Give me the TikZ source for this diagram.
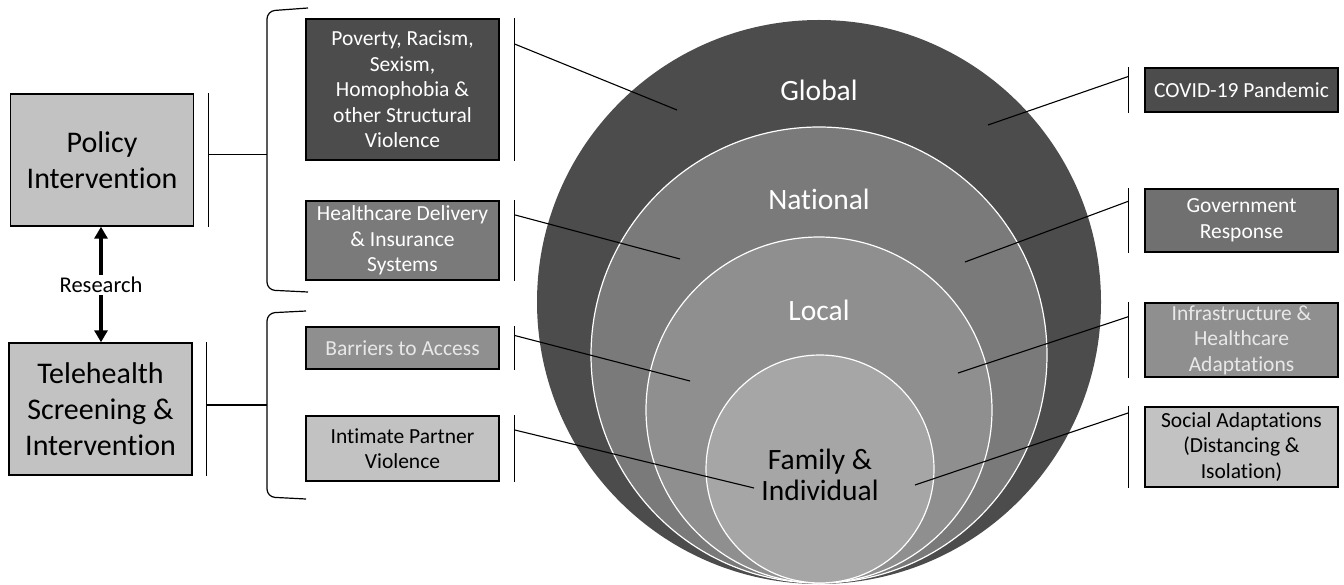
\documentclass[tikz,border=0pt]{standalone}
\usepackage{fontspec}
\setmainfont{Carlito}[Ligatures=CommonOff]
\usetikzlibrary{arrows.meta}

\definecolor{darkfill}{gray}{0.30}
\definecolor{govfill}{gray}{0.44}
\definecolor{midfill}{gray}{0.48}
\definecolor{localfill}{gray}{0.56}
\definecolor{famfill}{gray}{0.65}
\definecolor{lightfill}{gray}{0.76}
\definecolor{paletext}{gray}{0.91}

\begin{document}
\begin{tikzpicture}[x=1pt, y=-1pt,
  every node/.style={inner sep=0pt},
  bigbox/.style={draw, line width=1.4pt, fill=lightfill, minimum width=183pt, minimum height=132pt, align=center, font=\fontsize{30}{36}\selectfont},
  smallbox/.style={draw, line width=1.2pt, minimum width=193pt, align=center, font=\fontsize{21.5}{25.5}\selectfont},
  ringlabel/.style={text=white, align=center, font=\fontsize{29.5}{31}\selectfont},
  ring/.style={draw=white, line width=1.2pt},
  tickline/.style={line width=1.3pt},
  bracketline/.style={line width=1.2pt, rounded corners=8pt},
  link/.style={line width=1.1pt},
  arr/.style={-{Triangle[length=12pt,width=13pt]}, line width=4.5pt}]
\useasboundingbox (0,0) rectangle (1344,585);

% Nested levels
\fill[darkfill] (819,302) circle [radius=282pt];
\draw[ring, fill=midfill] (819,355) circle [radius=228pt];
\draw[ring, fill=localfill] (819,410) circle [radius=173pt];
\draw[ring, fill=famfill] (820,469) circle [radius=114pt];

\node[ringlabel, anchor=base] (global) at (819,101) {Global};
\node[ringlabel, anchor=base] (national) at (819,210) {National};
\node[ringlabel, anchor=base] (local) at (819,320) {Local};
\node[ringlabel, text=black] (family) at (820,475) {Family \&\\Individual};

% Intervention side
\node[bigbox] (policy) at (102,160) {Policy\\Intervention};
\node[bigbox] (tele) at (100.5,409) {Telehealth\\Screening \&\\Intervention};
\node[font=\fontsize{22.5}{27}\selectfont, inner sep=2pt] (research) at (101,285) {Research};
\draw[arr] (research.north) -- (research.north |- policy.south);
\draw[arr] (research.south) -- (research.south |- tele.north);

\draw[tickline] ([xshift=14pt]policy.north east) -- ([xshift=14pt]policy.south east) coordinate[pos=0.46] (policy-t);
\draw[tickline] ([xshift=14pt]tele.north east) -- ([xshift=14pt]tele.south east) coordinate[pos=0.47] (tele-t);

% Brackets
\draw[bracketline] (308,8) -- (267,11) -- (267,290) -- (308,292);
\draw[bracketline] (306,311) -- (267,313) -- (267,497) -- (306,499);
\coordinate (upper-br) at (267,155);
\coordinate (lower-br) at (267,405);
\draw[link] (policy-t) -- (policy-t -| upper-br);
\draw[link] (tele-t) -- (tele-t -| lower-br);

% Factors
\node[smallbox, fill=darkfill, text=white, minimum height=141pt] (poverty) at (402.5,89.5) {Poverty, Racism,\\Sexism,\\Homophobia \&\\other Structural\\Violence};
\node[smallbox, fill=midfill, text=white, minimum height=79pt] (delivery) at (402.5,240.5) {Healthcare Delivery\\\& Insurance\\Systems};
\node[smallbox, fill=localfill, text=paletext, minimum height=42pt] (barriers) at (402.5,348) {Barriers to Access};
\node[smallbox, fill=lightfill, minimum height=65pt] (ipv) at (402.5,448.5) {Intimate Partner\\Violence};

\draw[tickline] ([xshift=15pt]poverty.north east) -- ([xshift=15pt]poverty.south east) coordinate[pos=0.18] (poverty-t);
\draw[tickline] ([xshift=15pt]delivery.north east) -- ([xshift=15pt]delivery.south east) coordinate[pos=0.18] (delivery-t);
\draw[tickline] ([xshift=15pt]barriers.north east) -- ([xshift=15pt]barriers.south east) coordinate[pos=0.21] (barriers-t);
\draw[tickline] ([xshift=15pt]ipv.north east) -- ([xshift=15pt]ipv.south east) coordinate[pos=0.22] (ipv-t);

% Pandemic side
\node[smallbox, fill=darkfill, text=white, minimum height=44pt] (covid) at (1241.5,90) {COVID-19 Pandemic};
\node[smallbox, fill=govfill, text=white, minimum height=63pt] (govt) at (1241.5,220.5) {Government\\Response};
\node[smallbox, fill=localfill, text=paletext, minimum height=74pt] (infra) at (1241.5,340) {Infrastructure \&\\Healthcare\\Adaptations};
\node[smallbox, fill=lightfill, minimum height=80pt] (social) at (1241.5,447) {Social Adaptations\\(Distancing \&\\Isolation)};

\draw[tickline] ([xshift=-16pt]covid.north west) -- ([xshift=-16pt]covid.south west) coordinate[pos=0.2] (covid-t);
\draw[tickline] ([xshift=-16pt]govt.north west) -- ([xshift=-16pt]govt.south west) coordinate[pos=0.2] (govt-t);
\draw[tickline] ([xshift=-16pt]infra.north west) -- ([xshift=-16pt]infra.south west) coordinate[pos=0.19] (infra-t);
\draw[tickline] ([xshift=-16pt]social.north west) -- ([xshift=-16pt]social.south west) coordinate[pos=0.08] (social-t);

% Leader lines into the levels
\coordinate (poverty-end) at (677,110);
\coordinate (delivery-end) at (680,259);
\coordinate (barriers-end) at (690,381);
\coordinate (ipv-end) at (754,488);
\coordinate (covid-end) at (988,125);
\coordinate (govt-end) at (965,262);
\coordinate (infra-end) at (958,373);
\coordinate (social-end) at (915,485);

\draw[link] (poverty-t) -- (poverty-end);
\draw[link] (delivery-t) -- (delivery-end);
\draw[link] (barriers-t) -- (barriers-end);
\draw[link] (ipv-t) -- (ipv-end);
\draw[link] (covid-t) -- (covid-end);
\draw[link] (govt-t) -- (govt-end);
\draw[link] (infra-t) -- (infra-end);
\draw[link] (social-t) -- (social-end);

\end{tikzpicture}
\end{document}
